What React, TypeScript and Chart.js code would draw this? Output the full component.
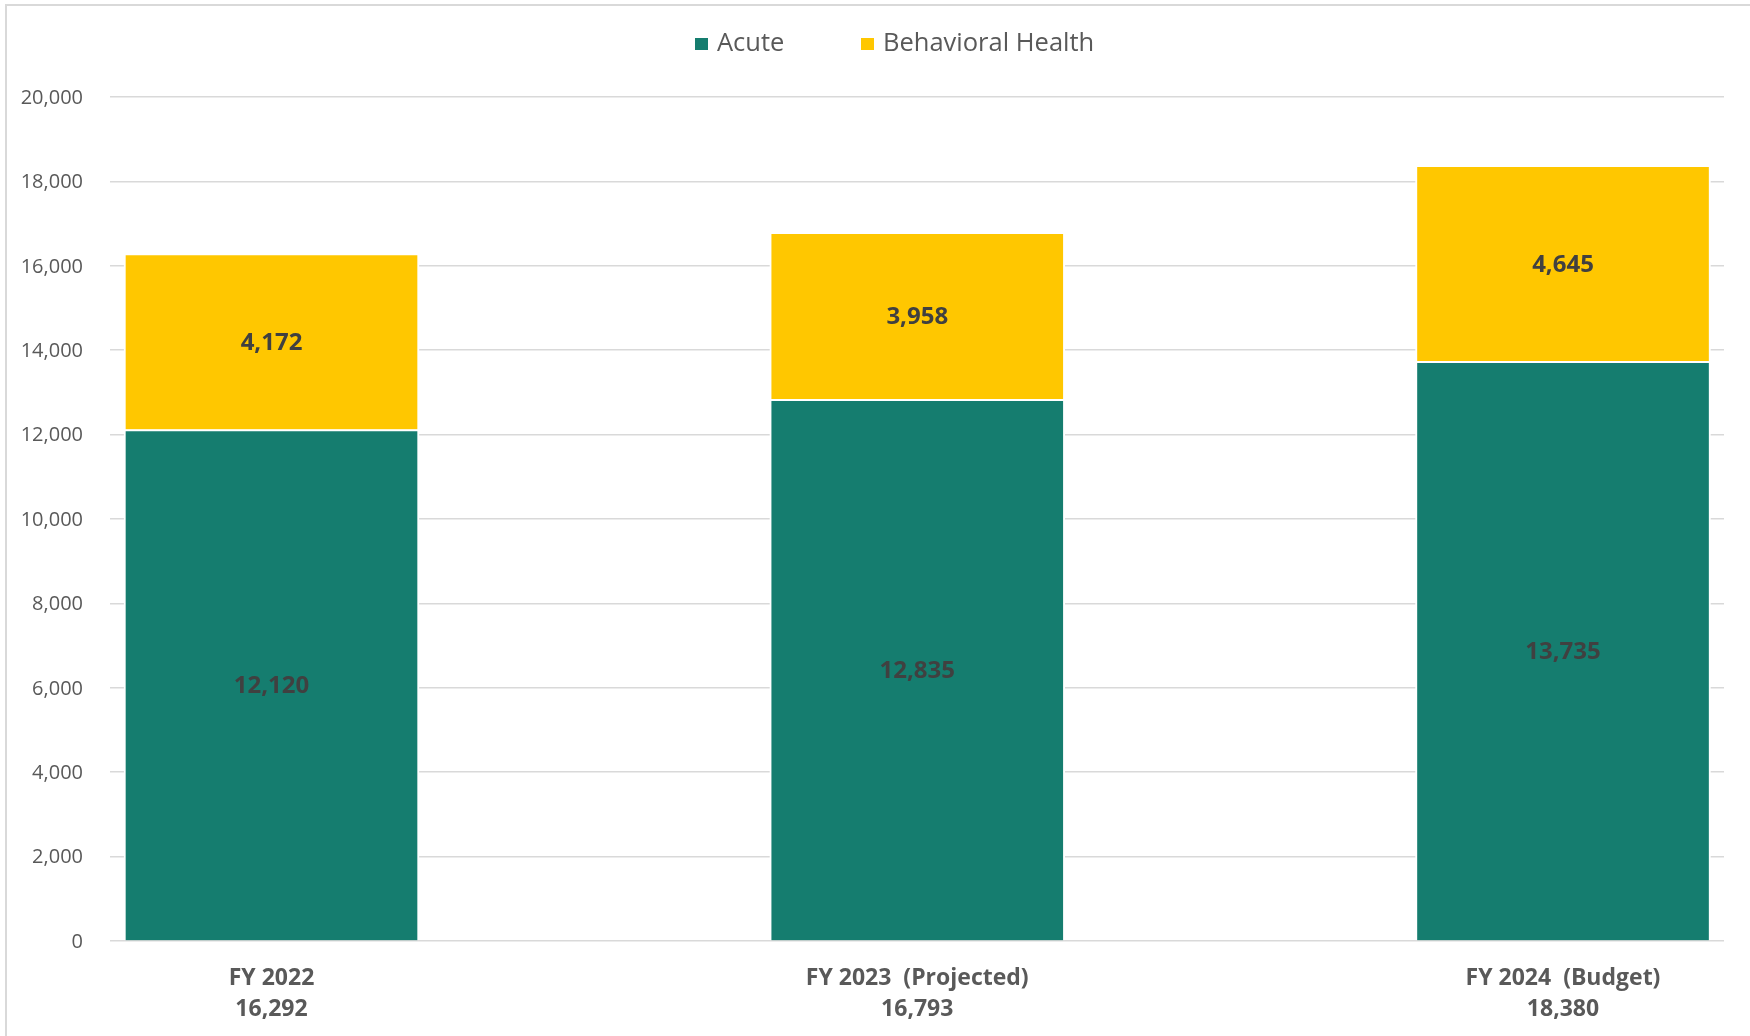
import React, { useEffect, useRef } from 'react';
import { Chart, registerables } from 'chart.js';

Chart.register(...registerables);

// ---- Data ----
const categories = ['FY 2022', 'FY 2023  (Projected)', 'FY 2024  (Budget)'];
const acute = [12120, 12835, 13735];
const behavioralHealth = [4172, 3958, 4645];
const totals = [16292, 16793, 18380];
const seriesNames = ['Acute', 'Behavioral Health'];
const seriesColors = ['#157D6F', '#FFC700'];
const yMin = 0;
const yMax = 20000;
const yStep = 2000;

const FONT = "'Open Sans', 'Noto Sans', sans-serif";
const TEXT_GRAY = '#595959';
const LABEL_SIZE = 24;

const fmt = (v: number) => v.toLocaleString('en-US');

const segmentLabels = {
  id: 'segmentLabels',
  afterDatasetsDraw(chart: any) {
    const ctx = chart.ctx;
    ctx.save();
    ctx.font = `bold ${LABEL_SIZE}px ${FONT}`;
    ctx.fillStyle = '#404040';
    ctx.textAlign = 'center';
    ctx.textBaseline = 'alphabetic';
    const half = (LABEL_SIZE * 0.714) / 2;
    chart.data.datasets.forEach((ds: any, di: number) => {
      const meta = chart.getDatasetMeta(di);
      meta.data.forEach((el: any, i: number) => {
        const { x, y, base } = el.getProps(['x', 'y', 'base'], true);
        ctx.fillText(fmt(ds.data[i].y), x, (y + base) / 2 + half);
      });
    });
    ctx.restore();
  },
};

export default function App() {
  const canvasRef = useRef<HTMLCanvasElement | null>(null);

  useEffect(() => {
    if (!canvasRef.current) return;
    const series = [acute, behavioralHealth];
    const chart = new Chart(canvasRef.current, {
      type: 'bar',
      data: {
        datasets: series.map((vals, s) => ({
          label: seriesNames[s],
          data: vals.map((v, i) => ({ x: i, y: v })),
          backgroundColor: seriesColors[s],
          borderColor: '#FFFFFF',
          borderWidth: 2,
          barThickness: 295,
        })),
      },
      options: {
        animation: false,
        responsive: false,
        devicePixelRatio: 1,
        layout: { padding: { left: 0, right: 26, top: 97, bottom: 0 } },
        plugins: {
          legend: { display: false },
          tooltip: { enabled: false },
        },
        scales: {
          x: {
            type: 'linear',
            stacked: true,
            offset: false,
            bounds: 'data',
            min: -0.2501,
            max: 2.2493,
            grid: { display: false, drawTicks: false },
            border: { display: false },
            afterBuildTicks: (s: any) => {
              s.ticks = categories.map((_, i) => ({ value: i }));
            },
            ticks: {
              stepSize: 1,
              padding: 22,
              autoSkip: false,
              maxRotation: 0,
              color: TEXT_GRAY,
              font: { family: FONT, size: 23, weight: 'bold', lineHeight: '31px' },
              callback: (v: any) => {
                const i = Math.round(Number(v));
                return [categories[i], fmt(totals[i])];
              },
            },
            afterFit: (s: any) => {
              s.height = 95;
            },
          } as any,
          y: {
            stacked: true,
            min: yMin,
            max: yMax,
            grid: { color: '#D9D9D9', lineWidth: 1.5, drawTicks: false },
            border: { display: false },
            ticks: {
              stepSize: yStep,
              padding: 27,
              labelOffset: 1,
              color: TEXT_GRAY,
              font: { family: FONT, size: 20 },
              callback: (v: any) => fmt(Number(v)),
            },
            afterFit: (s: any) => {
              s.width = 110;
            },
          },
        },
      },
      plugins: [segmentLabels],
    } as any);
    return () => chart.destroy();
  }, []);

  const legendLeft = [695, 861];

  return (
    <div
      style={{
        position: 'absolute',
        left: 0,
        top: 0,
        width: 1750,
        height: 1036,
        overflow: 'hidden',
        background: '#FFFFFF',
      }}
    >
      <div
        style={{
          position: 'absolute',
          left: 5,
          top: 4,
          width: 1800,
          height: 1100,
          borderLeft: '2px solid #D9D9D9',
          borderTop: '2px solid #D9D9D9',
        }}
      />
      <canvas
        ref={canvasRef}
        width={1750}
        height={1036}
        style={{ position: 'absolute', left: 0, top: 0, width: 1750, height: 1036 }}
      />
      {seriesNames.map((name, s) => (
        <div
          key={name}
          style={{
            position: 'absolute',
            left: legendLeft[s],
            top: 26,
            height: 30,
            display: 'flex',
            alignItems: 'center',
            fontFamily: FONT,
            fontSize: 25.5,
            lineHeight: '30px',
            color: TEXT_GRAY,
            whiteSpace: 'nowrap',
          }}
        >
          <span
            style={{
              display: 'inline-block',
              width: 13,
              height: 12,
              marginTop: 5,
              background: seriesColors[s],
              marginRight: 9,
            }}
          />
          <span>{name}</span>
        </div>
      ))}
    </div>
  );
}
